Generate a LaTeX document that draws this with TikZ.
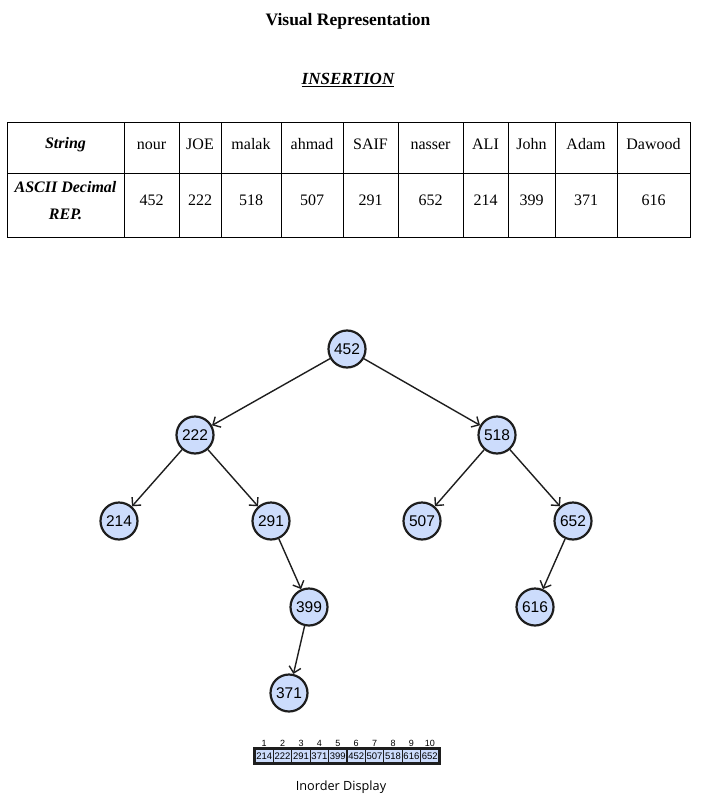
\documentclass[tikz,border=0pt]{standalone}
\usepackage{fontspec}
\setmainfont{Liberation Serif}
\newfontfamily\treefont{Liberation Sans}
\newfontfamily\capfont{Open Sans}
\usetikzlibrary{arrows.meta,positioning}
\definecolor{nodeblue}{RGB}{204,220,252}
\definecolor{edgegray}{RGB}{30,30,30}
\begin{document}
\begin{tikzpicture}[x=1pt, y=-1pt,
    bst/.style={circle, draw=edgegray, line width=2.2pt, fill=nodeblue, minimum size=37pt, inner sep=0pt, font=\treefont\fontsize{15.5}{15.5}\selectfont},
    arr/.style={-{Straight Barb[length=6pt,width=12pt]}, line width=1.4pt, draw=edgegray},
    cell/.style={font=\fontsize{16}{16}\selectfont, text height=11pt, text depth=3pt},
    hcell/.style={font=\bfseries\itshape\fontsize{16}{27}\selectfont, align=center},
    slot/.style={draw=edgegray, line width=1.2pt, fill=nodeblue, minimum width=18.4pt, minimum height=14pt, inner sep=0pt, font=\treefont\fontsize{9.5}{9.5}\selectfont}]
  \useasboundingbox (0,0) rectangle (705,797);

  \node (title) at (348,21) {\bfseries\fontsize{17.5}{17.5}\selectfont Visual Representation};
  \node (ins) at (348,80) {\bfseries\itshape\fontsize{17}{17}\selectfont\underline{INSERTION}};

  % table
  \draw[line width=1pt] (7,123) rectangle (690,237);
  \draw[line width=1pt] (7,173) -- (690,173);
  \foreach \x in {124,179,221,281,343,398,463,508,555,617}
    \draw[line width=1pt] (\x,123) -- (\x,237);
  \node[hcell] (hs) at (65.5,145) {String};
  \node[hcell] (ha) at (65.5,201) {ASCII Decimal\\REP.};
  \foreach \l/\r/\s/\v [count=\i] in {124/179/nour/452, 179/221/JOE/222, 221/281/malak/518,
      281/343/ahmad/507, 343/398/SAIF/291, 398/463/nasser/652, 463/508/ALI/214,
      508/555/John/399, 555/617/Adam/371, 617/690/Dawood/616} {
    \node[cell] (s\i) at ({(\l+\r)/2},145) {\s};
    \node[cell] (v\i) at ({(\l+\r)/2},201) {\v};
  }

  % tree
  \node[bst] (n452) at (347,349) {452};
  \node[bst] (n222) at (195,435) {222};
  \node[bst] (n518) at (497,435) {518};
  \node[bst] (n214) at (119,521) {214};
  \node[bst] (n291) at (271,521) {291};
  \node[bst] (n507) at (422,521) {507};
  \node[bst] (n652) at (573,521) {652};
  \node[bst] (n399) at (309,607) {399};
  \node[bst] (n616) at (535,607) {616};
  \node[bst] (n371) at (289,693) {371};

  \draw[arr] (n452) -- (n222);
  \draw[arr] (n452) -- (n518);
  \draw[arr] (n222) -- (n214);
  \draw[arr] (n222) -- (n291);
  \draw[arr] (n518) -- (n507);
  \draw[arr] (n518) -- (n652);
  \draw[arr] (n291) -- (n399);
  \draw[arr] (n652) -- (n616);
  \draw[arr] (n399) -- (n371);

  % inorder array
  \foreach \v [count=\i] in {214,222,291,371,399,452,507,518,616,652} {
    \node[slot] (c\i) at ({255+18.4*(\i-0.5)},756) {\v};
    \node[font=\treefont\fontsize{9}{9}\selectfont, inner sep=0pt] (k\i) at ({255+18.4*(\i-0.5)},743) {\i};
  }
  \draw[edgegray, line width=2.4pt] (c1.north west) rectangle (c10.south east);
  \node[font=\capfont\fontsize{12.7}{12.7}\selectfont] (cap) at (341,787) {Inorder Display};
\end{tikzpicture}
\end{document}
